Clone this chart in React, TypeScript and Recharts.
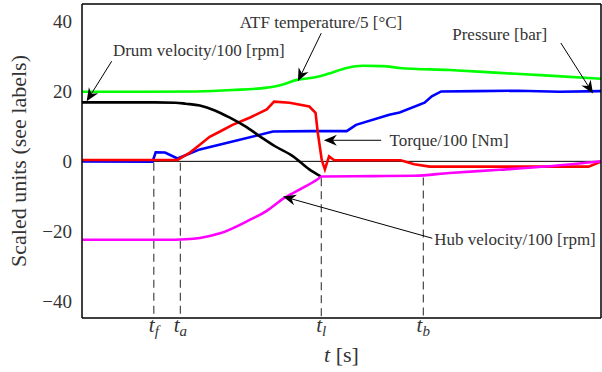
import React from 'react';
import { LineChart, Line, XAxis, YAxis, ReferenceLine, ReferenceDot } from 'recharts';

type Pt = { t: number; v: number };

// t runs 0..5 across the frame, v in scaled units
const drumVelocity: Pt[] = [
  { t: 0, v: 16.8 }, { t: 0.7, v: 16.8 }, { t: 0.9, v: 16.7 }, { t: 1.0, v: 16.4 },
  { t: 1.135, v: 15.9 }, { t: 1.28, v: 14.5 }, { t: 1.42, v: 12.5 }, { t: 1.57, v: 10.0 },
  { t: 1.71, v: 7.2 }, { t: 1.86, v: 4.3 }, { t: 2.03, v: 1.5 }, { t: 2.19, v: -2.3 },
  { t: 2.3, v: -4.3 },
];

const hubVelocity: Pt[] = [
  { t: 0, v: -22.3 }, { t: 0.9, v: -22.3 }, { t: 1.0, v: -22.2 }, { t: 1.135, v: -21.8 },
  { t: 1.33, v: -20.5 }, { t: 1.62, v: -16.6 }, { t: 1.78, v: -14.1 }, { t: 1.95, v: -10.4 },
  { t: 2.1, v: -8.0 }, { t: 2.27, v: -5.1 }, { t: 2.31, v: -4.3 }, { t: 2.8, v: -4.2 },
  { t: 3.2, v: -4.1 }, { t: 3.54, v: -3.3 }, { t: 4.02, v: -2.4 }, { t: 4.5, v: -1.4 },
  { t: 4.93, v: -0.2 }, { t: 5, v: 0 },
];

const torque: Pt[] = [
  { t: 0, v: 0.4 }, { t: 0.92, v: 0.4 }, { t: 1.04, v: 2.5 }, { t: 1.135, v: 4.7 },
  { t: 1.23, v: 7.0 }, { t: 1.33, v: 8.5 }, { t: 1.45, v: 10.4 }, { t: 1.62, v: 12.5 },
  { t: 1.78, v: 14.8 }, { t: 1.85, v: 17.0 }, { t: 2.0, v: 16.7 }, { t: 2.19, v: 15.6 },
  { t: 2.25, v: 13.8 }, { t: 2.27, v: 8.5 }, { t: 2.31, v: 0.3 }, { t: 2.34, v: -2.3 },
  { t: 2.38, v: 1.4 }, { t: 2.43, v: 0.3 }, { t: 3.07, v: 0.3 }, { t: 3.2, v: -0.8 },
  { t: 3.35, v: -1.5 }, { t: 4.88, v: -1.5 }, { t: 5, v: -0.1 },
];

const pressure: Pt[] = [
  { t: 0, v: 0 }, { t: 0.68, v: -0.1 }, { t: 0.71, v: 2.6 }, { t: 0.8, v: 2.5 },
  { t: 0.92, v: 0.8 }, { t: 1.135, v: 3.4 }, { t: 1.5, v: 6.0 }, { t: 1.84, v: 8.5 },
  { t: 2.2, v: 8.6 }, { t: 2.55, v: 8.6 }, { t: 2.64, v: 10.4 }, { t: 2.96, v: 13.3 },
  { t: 3.06, v: 13.9 }, { t: 3.3, v: 16.7 }, { t: 3.37, v: 18.5 }, { t: 3.46, v: 19.9 },
  { t: 3.8, v: 20.0 }, { t: 4.2, v: 20.1 }, { t: 4.6, v: 19.8 }, { t: 5, v: 20.0 },
];

const atfTemperature: Pt[] = [
  { t: 0, v: 19.8 }, { t: 0.6, v: 19.8 }, { t: 1.1, v: 19.9 }, { t: 1.45, v: 20.3 },
  { t: 1.78, v: 21.0 }, { t: 1.9, v: 21.6 }, { t: 2.07, v: 23.2 }, { t: 2.26, v: 24.0 },
  { t: 2.38, v: 25.0 }, { t: 2.55, v: 26.6 }, { t: 2.7, v: 27.2 }, { t: 2.89, v: 27.1 },
  { t: 3.06, v: 26.6 }, { t: 3.54, v: 26.0 }, { t: 4.02, v: 25.2 }, { t: 4.5, v: 24.4 },
  { t: 5, v: 23.5 },
];

const yTicks = [-40, -20, 0, 20, 40];
const frameTicks = [1, 2, 3, 4];
const markerTimes = [0.692, 0.947, 2.305, 3.288];
const markerNames = ['f', 'a', 'l', 'b'];
const markerTops = [-0.4, -0.4, -4.8, -4.6];

const noteTexts = [
  'Drum velocity/100 [rpm]',
  'ATF temperature/5 [°C]',
  'Pressure [bar]',
  'Torque/100 [Nm]',
  'Hub velocity/100 [rpm]',
];
const noteTextAt = [[0.298, 29.9], [1.519, 38.0], [3.567, 34.6], [2.962, 4.3], [3.394, -23.7]];
const noteTails = [[0.286, 28.5], [2.305, 36.5], [4.613, 33.7], [2.882, 6.0], [3.375, -21.9]];
const noteTips = [[0.045, 17.1], [2.08, 22.8], [4.923, 19.3], [2.33, 6.0], [1.936, -10.0]];

const SERIF = "'Liberation Serif', 'DejaVu Serif', serif";
const GREY = '#333';

const fmtY = (v: number) => (v < 0 ? `\u2212${Math.abs(v)}` : `${v}`);

const YTick = (props: any) => {
  const { x, y, payload } = props;
  return (
    <text x={x} y={y} dy="0.35em" textAnchor="end" fontSize={19} fill={GREY} fontFamily={SERIF}>
      {fmtY(payload.value)}
    </text>
  );
};

// t with a subscript under each dashed marker
const MarkerTick = (props: any) => {
  const { x, y, payload } = props;
  return (
    <text x={x} y={y + 14} textAnchor="middle" fill={GREY} fontFamily={SERIF}>
      <tspan fontStyle="italic" fontSize={21}>t</tspan>
      <tspan fontStyle="italic" fontSize={15} dy={4}>{markerNames[payload.index]}</tspan>
    </text>
  );
};

const XTitle = (props: any) => {
  const vb = props.viewBox;
  return (
    <text x={vb.x + vb.width / 2} y={362} textAnchor="middle" fontSize={22} fill={GREY} fontFamily={SERIF}>
      <tspan fontStyle="italic">t</tspan> [s]
    </text>
  );
};

const YTitle = () => (
  <text
    x={26}
    y={161}
    transform="rotate(-90 26 161)"
    textAnchor="middle"
    fontSize={22}
    fill={GREY}
    fontFamily={SERIF}
  >
    Scaled units (see labels)
  </text>
);

const arrowShape = (p: any) => {
  const { x1, y1, x2, y2 } = p;
  const len = Math.hypot(x2 - x1, y2 - y1) || 1;
  const ux = (x2 - x1) / len;
  const uy = (y2 - y1) / len;
  const nx = -uy;
  const ny = ux;
  const L = 13, W = 5.5, N = 4;
  const bx = x2 - ux * L;
  const by = y2 - uy * L;
  const mx = x2 - ux * (L - N);
  const my = y2 - uy * (L - N);
  const pts = [
    [x2, y2], [bx + nx * W, by + ny * W], [mx, my], [bx - nx * W, by - ny * W],
  ].map((q) => q.join(',')).join(' ');
  return (
    <g>
      <line x1={x1} y1={y1} x2={mx} y2={my} stroke="#000" strokeWidth={1} />
      <polygon points={pts} fill="#000" />
    </g>
  );
};

const noteShape = (label: string) => (p: any) => (
  <text x={p.cx} y={p.cy} fontSize={17} fill={GREY} fontFamily={SERIF}>
    {label}
  </text>
);

export default function App() {
  return (
    <div style={{ position: 'absolute', left: 0, top: 0, width: 602, height: 372, background: '#fff' }}>
      <LineChart width={602} height={372} margin={{ top: 4, right: 1, bottom: 0, left: 0 }}>
        <XAxis
          xAxisId={0}
          dataKey="t"
          type="number"
          domain={[0, 5]}
          allowDataOverflow
          ticks={markerTimes}
          interval={0}
          height={54}
          tickSize={0}
          tickMargin={0}
          tickLine={false}
          axisLine={{ stroke: '#000', strokeWidth: 1.5 }}
          tick={<MarkerTick />}
          label={<XTitle />}
        />
        <XAxis
          xAxisId="bm"
          type="number"
          domain={[0, 5]}
          allowDataOverflow
          ticks={frameTicks}
          interval={0}
          mirror
          tickSize={5}
          tick={false}
          axisLine={false}
          tickLine={{ stroke: '#000' }}
        />
        <XAxis
          xAxisId="top"
          orientation="top"
          type="number"
          domain={[0, 5]}
          allowDataOverflow
          ticks={frameTicks}
          interval={0}
          mirror
          tickSize={5}
          tick={false}
          axisLine={{ stroke: '#000', strokeWidth: 1.3 }}
          tickLine={{ stroke: '#000' }}
        />
        <YAxis
          yAxisId={0}
          type="number"
          domain={[-44.6, 44.8]}
          allowDataOverflow
          ticks={yTicks}
          interval={0}
          width={82}
          tickSize={0}
          tickMargin={10}
          tickLine={false}
          tick={<YTick />}
          axisLine={{ stroke: '#000', strokeWidth: 1.5 }}
          label={<YTitle />}
        />
        <YAxis
          yAxisId="lm"
          type="number"
          domain={[-44.6, 44.8]}
          allowDataOverflow
          ticks={yTicks}
          interval={0}
          mirror
          tickSize={5}
          tick={false}
          axisLine={false}
          tickLine={{ stroke: '#000' }}
        />
        <YAxis
          yAxisId="rm"
          orientation="right"
          type="number"
          domain={[-44.6, 44.8]}
          allowDataOverflow
          ticks={yTicks}
          interval={0}
          mirror
          tickSize={5}
          tick={false}
          axisLine={{ stroke: '#000', strokeWidth: 1.5 }}
          tickLine={{ stroke: '#000' }}
        />

        <ReferenceLine y={0} stroke="#000" strokeWidth={1} />
        {markerTimes.map((t, i) => (
          <ReferenceLine
            key={`m${i}`}
            segment={[{ x: t, y: markerTops[i] }, { x: t, y: -44.5 }]}
            stroke="#222"
            strokeWidth={1}
            strokeDasharray="8 5"
          />
        ))}

        <Line data={pressure} dataKey="v" type="linear" stroke="#0000ff" strokeWidth={2.6} dot={false} isAnimationActive={false} />
        <Line data={torque} dataKey="v" type="linear" stroke="#ff0000" strokeWidth={2.6} dot={false} isAnimationActive={false} />
        <Line data={drumVelocity} dataKey="v" type="monotone" stroke="#000000" strokeWidth={2.6} dot={false} isAnimationActive={false} />
        <Line data={hubVelocity} dataKey="v" type="monotone" stroke="#ff00ff" strokeWidth={2.6} dot={false} isAnimationActive={false} />
        <Line data={atfTemperature} dataKey="v" type="monotone" stroke="#00ff00" strokeWidth={2.6} dot={false} isAnimationActive={false} />

        {noteTexts.map((txt, i) => (
          <ReferenceLine
            key={`a${i}`}
            segment={[
              { x: noteTails[i][0], y: noteTails[i][1] },
              { x: noteTips[i][0], y: noteTips[i][1] },
            ]}
            shape={arrowShape}
          />
        ))}
        {noteTexts.map((txt, i) => (
          <ReferenceDot key={`n${i}`} x={noteTextAt[i][0]} y={noteTextAt[i][1]} r={0} shape={noteShape(txt)} />
        ))}
      </LineChart>
    </div>
  );
}
